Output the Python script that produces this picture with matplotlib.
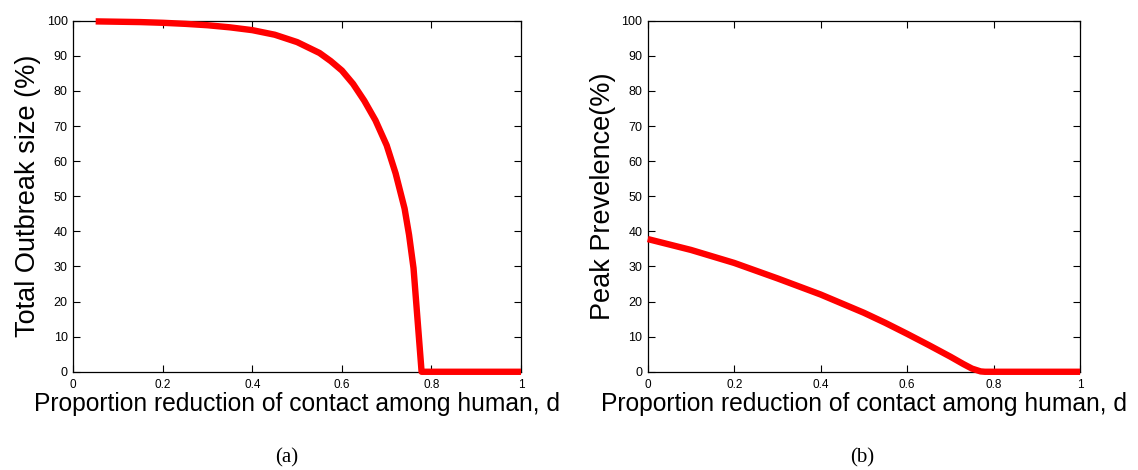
import matplotlib
matplotlib.use("Agg")
import matplotlib.pyplot as plt

# Total outbreak size vs. proportional reduction of human contact
d_outbreak = [0.05, 0.10, 0.15, 0.20, 0.25, 0.30, 0.35, 0.40, 0.45, 0.50,
              0.55, 0.575, 0.60, 0.625, 0.65, 0.675, 0.70, 0.72, 0.74,
              0.75, 0.76, 0.778, 0.80, 0.90, 1.00]
outbreak_size = [99.8, 99.7, 99.6, 99.4, 99.1, 98.7, 98.1, 97.3, 96.0, 93.9,
                 90.8, 88.5, 85.8, 82.0, 77.2, 71.6, 64.5, 56.5, 46.5,
                 39.0, 29.5, 0.0, 0.0, 0.0, 0.0]

# Peak prevalence vs. proportional reduction of human contact
d_peak = [0.0, 0.1, 0.2, 0.3, 0.4, 0.5, 0.55, 0.6, 0.65, 0.70, 0.73, 0.75,
          0.77, 0.78, 0.90, 1.00]
peak_prevalence = [37.8, 34.7, 31.0, 26.6, 22.0, 16.8, 13.9, 10.8, 7.6, 4.3,
                   2.2, 0.9, 0.1, 0.0, 0.0, 0.0]

x_ticks = [0, 0.2, 0.4, 0.6, 0.8, 1]
x_tick_labels = ["0", "0.2", "0.4", "0.6", "0.8", "1"]
y_ticks = list(range(0, 101, 10))

x_label = "Proportion reduction of contact among human, d"
y_labels = ["Total Outbreak size (%)", "Peak Prevelence(%)"]
captions = ["(a)", "(b)"]
caption_x = [287 / 1138, 862 / 1138]

plt.rcParams["font.family"] = ["Liberation Sans", "DejaVu Sans"]

fig = plt.figure(figsize=(11.38, 4.70), dpi=100)
ax_a = fig.add_axes([0.0644, 0.209, 0.3934, 0.747])
ax_b = fig.add_axes([0.5692, 0.209, 0.3799, 0.747])

series = [(d_outbreak, outbreak_size), (d_peak, peak_prevalence)]
for ax, (xs, ys), ylab, cap, cx in zip([ax_a, ax_b], series, y_labels,
                                       captions, caption_x):
    ax.plot(xs, ys, color="#ff0000", lw=4.6, solid_joinstyle="round",
            solid_capstyle="butt", clip_on=False, zorder=3)
    ax.set_xlim(0, 1)
    ax.set_ylim(0, 100)
    ax.set_xticks(x_ticks)
    ax.set_xticklabels(x_tick_labels)
    ax.set_yticks(y_ticks)
    ax.tick_params(direction="in", length=5, width=0.8, top=True, right=True,
                   labelsize=9, pad=4, colors="black")
    ax.tick_params(axis="x", labelsize=8.5, pad=5)
    for sp in ax.spines.values():
        sp.set_linewidth(0.9)
    ax.set_xlabel(x_label, fontsize=17.7, labelpad=1)
    ax.set_ylabel(ylab, fontsize=19.5, labelpad=4)
    fig.text(cx, 0.015, cap, ha="center", va="baseline", fontsize=15,
             family=["Liberation Serif", "DejaVu Serif"])

fig.savefig("out.png", dpi=100)
